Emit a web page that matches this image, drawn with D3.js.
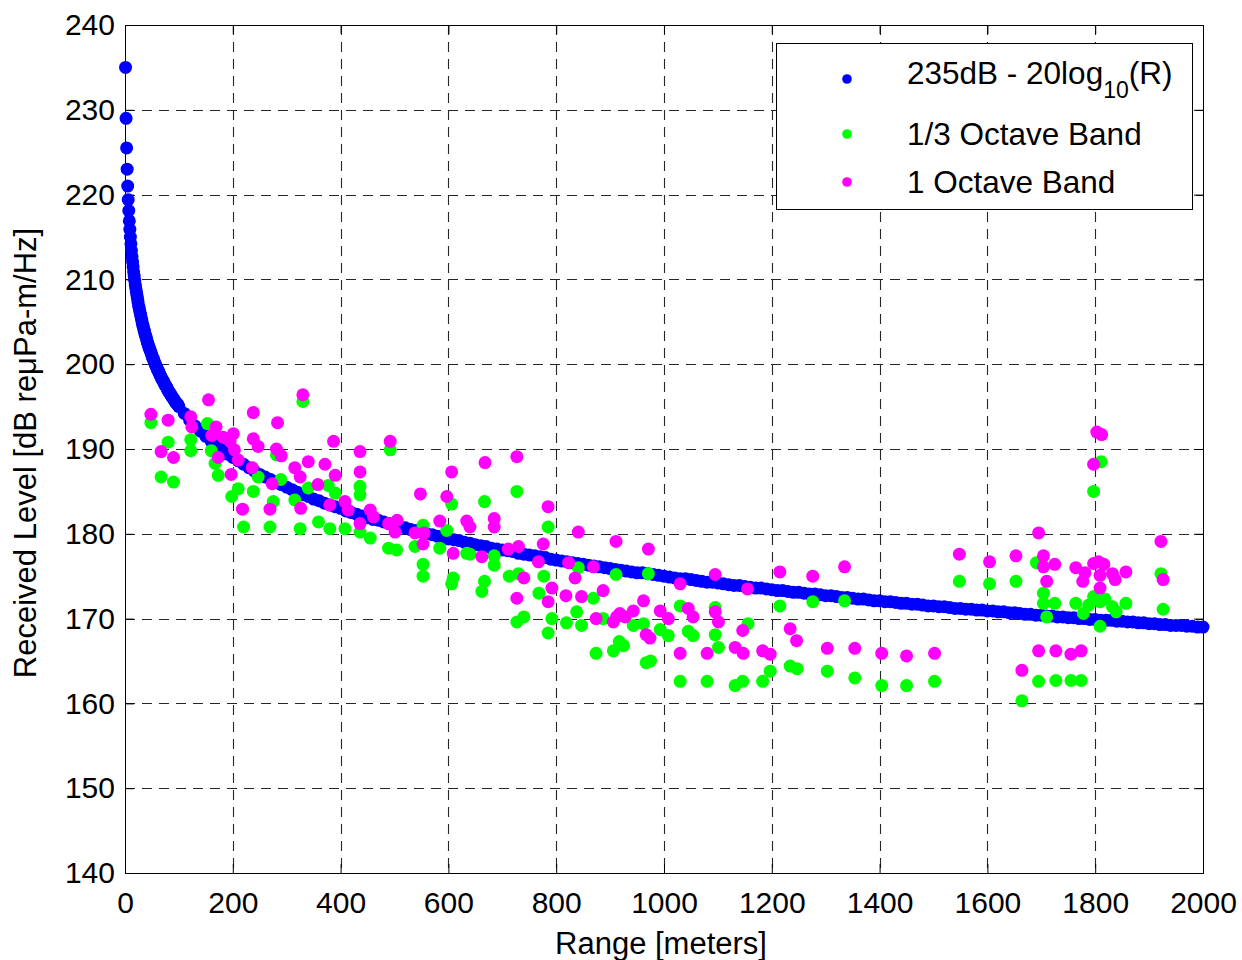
<!DOCTYPE html>
<html>
<head>
<meta charset="utf-8">
<script src="https://cdn.jsdelivr.net/npm/d3@7"></script>
<style>
  html, body { margin: 0; padding: 0; background: #ffffff; }
  svg { display: block; font-family: "Liberation Sans", Arial, sans-serif; }
</style>
</head>
<body>
<svg id="chart" width="1242" height="960"></svg>
<script>
// ---------- DATA ----------
const xTicks = [0, 200, 400, 600, 800, 1000, 1200, 1400, 1600, 1800, 2000];
const yTicks = [140, 150, 160, 170, 180, 190, 200, 210, 220, 230, 240];

// Model: 235dB - 20log10(R)
const blueRange = [
  1,2,3,4,5,6,7,8,9,10,11,12,13,14,15,16,17,18,19,20,21,22,23,24,25,26,27,28,29,30,
  31,32,33,34,35,36,37,38,39,40,41,42,43,44,45,46,47,48,49,50,51,52,53,54,55,56,57,58,59,60,
  61,62,63,64,65,66,67,68,69,70,71,72,73,74,75,76,77,78,79,80,81,82,83,84,85,86,87,88,89,90,
  91,92,93,94,95,96,97,98,99,100,
  110,120,130,140,150,160,170,180,190,200,210,220,230,240,250,260,270,280,290,300,
  310,320,330,340,350,360,370,380,390,400,410,420,430,440,450,460,470,480,490,500,
  510,520,530,540,550,560,570,580,590,600,610,620,630,640,650,660,670,680,690,700,
  710,720,730,740,750,760,770,780,790,800,810,820,830,840,850,860,870,880,890,900,
  910,920,930,940,950,960,970,980,990,1000,1010,1020,1030,1040,1050,1060,1070,1080,1090,1100,
  1110,1120,1130,1140,1150,1160,1170,1180,1190,1200,1210,1220,1230,1240,1250,1260,1270,1280,1290,1300,
  1310,1320,1330,1340,1350,1360,1370,1380,1390,1400,1410,1420,1430,1440,1450,1460,1470,1480,1490,1500,
  1510,1520,1530,1540,1550,1560,1570,1580,1590,1600,1610,1620,1630,1640,1650,1660,1670,1680,1690,1700,
  1710,1720,1730,1740,1750,1760,1770,1780,1790,1800,1810,1820,1830,1840,1850,1860,1870,1880,1890,1900,
  1910,1920,1930,1940,1950,1960,1970,1980,1990,2000
];
const blueLevel = [
  235.0,229.0,225.5,223.0,221.0,219.4,218.1,216.9,215.9,215.0,214.2,213.4,212.7,212.1,211.5,210.9,210.4,209.9,209.4,209.0,
  208.6,208.2,207.8,207.4,207.0,206.7,206.4,206.1,205.8,205.5,
  205.2,204.9,204.6,204.4,204.1,203.9,203.6,203.4,203.2,203.0,202.7,202.5,202.3,202.1,201.9,201.7,201.6,201.4,201.2,201.0,
  200.8,200.7,200.5,200.4,200.2,200.0,199.9,199.7,199.6,199.4,
  199.3,199.2,199.0,198.9,198.7,198.6,198.5,198.3,198.2,198.1,198.0,197.9,197.7,197.6,197.5,197.4,197.3,197.2,197.0,196.9,
  196.8,196.7,196.6,196.5,196.4,196.3,196.2,196.1,196.0,195.9,
  195.8,195.7,195.6,195.5,195.4,195.4,195.3,195.2,195.1,195.0,
  194.2,193.4,192.7,192.1,191.5,190.9,190.4,189.9,189.4,189.0,188.6,188.2,187.8,187.4,187.0,186.7,186.4,186.1,185.8,185.5,
  185.2,184.9,184.6,184.4,184.1,183.9,183.6,183.4,183.2,183.0,182.7,182.5,182.3,182.1,181.9,181.7,181.6,181.4,181.2,181.0,
  180.8,180.7,180.5,180.4,180.2,180.0,179.9,179.7,179.6,179.4,179.3,179.2,179.0,178.9,178.7,178.6,178.5,178.3,178.2,178.1,
  178.0,177.9,177.7,177.6,177.5,177.4,177.3,177.2,177.0,176.9,176.8,176.7,176.6,176.5,176.4,176.3,176.2,176.1,176.0,175.9,
  175.8,175.7,175.6,175.5,175.4,175.4,175.3,175.2,175.1,175.0,174.9,174.8,174.7,174.7,174.6,174.5,174.4,174.3,174.3,174.2,
  174.1,174.0,173.9,173.9,173.8,173.7,173.6,173.6,173.5,173.4,173.3,173.3,173.2,173.1,173.1,173.0,172.9,172.9,172.8,172.7,
  172.7,172.6,172.5,172.5,172.4,172.3,172.3,172.2,172.1,172.1,172.0,172.0,171.9,171.8,171.8,171.7,171.7,171.6,171.5,171.5,
  171.4,171.4,171.3,171.2,171.2,171.1,171.1,171.0,171.0,170.9,170.9,170.8,170.8,170.7,170.7,170.6,170.5,170.5,170.4,170.4,
  170.3,170.3,170.2,170.2,170.1,170.1,170.0,170.0,169.9,169.9,169.8,169.8,169.8,169.7,169.7,169.6,169.6,169.5,169.5,169.4,
  169.4,169.3,169.3,169.2,169.2,169.2,169.1,169.1,169.0,169.0
];

// 1/3 Octave Band measurements
const greenRange = [
  48,80,122,122,153,160,167,173,67,90,198,210,238,247,275,220,269,289,281,
  330,492,436,436,340,377,390,315,325,359,380,408,436,455,489,504,538,553,
  727,606,667,785,597,584,634,640,685,685,553,553,609,606,667,662,713,730,777,768,727,740,792,785,819,838,841,
  911,971,847,869,887,874,906,917,925,943,962,967,975,993,1008,1030,1045,1054,1095,1095,1101,1030,1080,
  1215,1276,1335,1156,1197,1234,1247,1303,1354,1404,1132,1146,1183,
  1548,1604,1653,1691,1704,1704,1710,1450,1502,1664,1695,
  1811,1797,1922,1725,1764,1778,1788,1797,1809,1818,1832,1839,1857,1809,1926,1727,1755,1774
];
const greenLevel = [
  193.1,190.8,191.1,189.8,193.0,189.8,188.3,186.9,186.7,186.1,184.4,185.3,185.0,186.7,183.8,180.8,180.8,186.4,189.3,
  195.6,189.9,185.6,184.6,185.4,185.7,184.8,184.0,180.6,181.4,180.6,180.6,180.2,179.5,178.3,178.1,178.5,181.0,
  185.0,183.5,183.8,180.8,180.4,178.3,177.7,177.6,177.4,176.3,176.4,175.0,174.8,174.1,174.4,173.2,175.0,175.3,175.0,173.0,169.6,170.2,170.0,168.3,169.5,170.8,176.0,
  175.2,175.3,169.2,172.4,170.0,165.9,166.2,167.3,166.8,169.2,169.4,164.8,165.0,168.7,168.0,171.5,168.5,168.0,171.3,168.1,166.6,162.6,162.6,
  171.5,172.0,172.1,169.4,163.8,164.4,164.1,163.8,163.0,162.1,162.1,162.6,162.6,
  174.4,174.1,174.4,176.6,173.0,171.8,170.2,162.1,162.6,160.3,162.6,
  188.5,185.0,175.3,171.8,171.8,170.6,171.6,172.6,172.0,172.3,171.4,170.8,171.8,169.1,171.1,162.7,162.7,162.7
];

// 1 Octave Band measurements
const magentaRange = [
  48,80,122,124,155,161,169,173,182,195,201,203,210,197,67,90,218,238,238,236,247,269,273,283,281,290,
  330,387,492,436,436,315,340,371,325,390,358,548,380,408,414,326,455,461,436,489,505,501,538,555,553,
  668,727,606,597,785,584,634,640,685,685,609,662,711,730,776,767,823,841,740,792,785,727,818,835,
  911,971,869,847,887,1095,1030,962,943,918,912,874,906,928,993,1008,1045,1054,1095,1101,967,974,1030,1080,
  1215,1276,1335,1155,1146,1234,1246,1132,1147,1183,1197,1303,1354,1404,
  1548,1604,1653,1695,1704,1704,1710,1450,1502,1664,1695,
  1803,1812,1797,1922,1725,1764,1781,1777,1797,1806,1816,1809,1809,1832,1837,1857,1926,1727,1755,1774
];
const magentaLevel = [
  194.1,193.4,193.8,192.6,195.8,191.6,192.6,189.0,191.4,190.9,191.8,189.9,188.7,187.0,189.7,189.0,182.9,194.3,191.2,187.8,190.3,182.9,185.9,193.1,190.0,189.2,
  196.4,190.9,190.9,189.7,187.3,187.8,188.5,188.2,186.7,186.9,185.8,184.7,183.4,183.8,182.8,183.0,182.8,182.0,181.2,181.2,181.6,180.2,180.1,180.1,178.8,
  188.4,189.1,187.3,184.4,183.2,181.5,181.5,180.8,181.8,180.8,177.7,177.3,178.2,178.5,178.8,176.7,176.6,180.2,174.8,173.6,172.0,172.4,172.7,174.8,
  179.1,178.2,176.1,172.6,173.3,175.2,174.1,172.1,170.9,170.6,170.2,170.0,169.6,170.2,170.9,170.0,171.2,170.2,170.8,169.6,168.1,167.7,165.9,165.9,
  175.5,175.0,176.1,173.5,168.6,168.8,167.4,166.6,165.9,166.2,165.8,166.5,166.5,165.9,
  177.6,176.7,177.4,180.1,177.4,176.1,174.4,165.6,165.9,163.9,166.2,
  192.0,191.7,188.2,179.1,176.4,176.0,175.4,174.4,176.5,176.7,176.4,175.1,173.6,175.3,174.6,175.5,174.6,166.2,165.8,166.2
];

const seriesNames = ["235dB - 20log", "1/3 Octave Band", "1 Octave Band"];
const seriesColors = ["#0000ff", "#00ff00", "#ff00ff"];

// ---------- DRAW ----------
const svg = d3.select("#chart");
const L = 125, R = 1203, T = 25, B = 873;
const x = d3.scaleLinear().domain([0, 2000]).range([L, R]);
const y = d3.scaleLinear().domain([140, 240]).range([B, T]);

svg.append("rect").attr("x", 0).attr("y", 0).attr("width", 1242).attr("height", 960).attr("fill", "#fff");

// grid
const grid = svg.append("g").attr("stroke", "#262626").attr("stroke-width", 1.1).attr("stroke-dasharray", "10,7");
grid.selectAll("line.gx").data(xTicks.slice(1, -1)).enter().append("line")
  .attr("x1", d => Math.round(x(d)) + 0.5).attr("x2", d => Math.round(x(d)) + 0.5)
  .attr("y1", T).attr("y2", B);
grid.selectAll("line.gy").data(yTicks.slice(1, -1)).enter().append("line")
  .attr("y1", d => Math.round(y(d)) + 0.5).attr("y2", d => Math.round(y(d)) + 0.5)
  .attr("x1", L).attr("x2", R);

// axes (MATLAB style: ticks inside, box on)
const tickLen = 9;
const axB = svg.append("g").attr("transform", `translate(0,${B})`)
  .call(d3.axisBottom(x).tickValues(xTicks).tickSize(-tickLen).tickPadding(18).tickFormat(d3.format("d")));
const axT = svg.append("g").attr("transform", `translate(0,${T})`)
  .call(d3.axisTop(x).tickValues(xTicks).tickSize(-tickLen).tickFormat(""));
const axL = svg.append("g").attr("transform", `translate(${L},0)`)
  .call(d3.axisLeft(y).tickValues(yTicks).tickSize(-tickLen).tickPadding(10).tickFormat(d3.format("d")));
const axR = svg.append("g").attr("transform", `translate(${R},0)`)
  .call(d3.axisRight(y).tickValues(yTicks).tickSize(-tickLen).tickFormat(""));
[axB, axT, axL, axR].forEach(a => {
  a.select(".domain").remove();
  a.selectAll("line").attr("stroke", "#000");
  a.selectAll("text").attr("font-size", 30).attr("fill", "#000")
    .attr("font-family", '"Liberation Sans", Arial, sans-serif');
});
axB.selectAll("text").attr("dy", "0.72em");

// frame
svg.append("rect").attr("x", L + 0.5).attr("y", T + 0.5).attr("width", R - L).attr("height", B - T)
  .attr("fill", "none").attr("stroke", "#000").attr("stroke-width", 1);

// data points
const r = 6.5;
const blueData = blueRange.map((d, i) => [d, blueLevel[i]]);
const greenData = greenRange.map((d, i) => [d, greenLevel[i]]);
const magentaData = magentaRange.map((d, i) => [d, magentaLevel[i]]);
[blueData, greenData, magentaData].forEach((data, si) => {
  svg.append("g").selectAll("circle").data(data).enter().append("circle")
    .attr("cx", d => x(d[0])).attr("cy", d => y(d[1])).attr("r", r)
    .attr("fill", seriesColors[si]);
});

// axis labels
svg.append("text").attr("x", 661).attr("y", 954).attr("text-anchor", "middle")
  .attr("font-size", 31).text("Range [meters]");
svg.append("text").attr("transform", "translate(36,453) rotate(-90)").attr("text-anchor", "middle")
  .attr("font-size", 31).text("Received Level [dB reμPa-m/Hz]");

// legend
const lg = svg.append("g");
lg.append("rect").attr("x", 776.5).attr("y", 43.5).attr("width", 416).attr("height", 166)
  .attr("fill", "#fff").attr("stroke", "#000").attr("stroke-width", 1);
const legY = [79, 134, 182];
const legBase = [84, 145, 193];
seriesNames.forEach((name, i) => {
  lg.append("circle").attr("cx", 847).attr("cy", legY[i]).attr("r", 4.8).attr("fill", seriesColors[i]);
  const t = lg.append("text").attr("x", 907).attr("y", legBase[i]).attr("font-size", 31.5).attr("fill", "#000");
  t.append("tspan").text(name);
  if (i === 0) {
    t.append("tspan").attr("font-size", 23).attr("dy", 14).text("10");
    t.append("tspan").attr("dy", -14).text("(R)");
  }
});
</script>
</body>
</html>
